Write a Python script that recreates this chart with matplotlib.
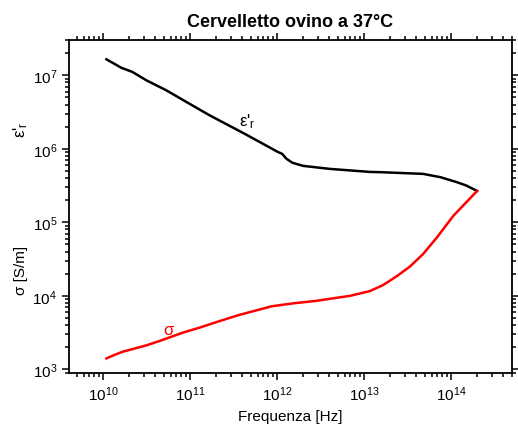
import numpy as np
import matplotlib
matplotlib.use('Agg')
import matplotlib.pyplot as plt
from matplotlib.ticker import LogLocator, NullFormatter

# Data (Hz, eps_r', S/m)
freq_eps = [1.10e10, 1.62e10, 2.19e10, 3.16e10, 5.37e10, 9.12e10, 1.70e11,
            4.27e11, 1.02e12, 1.15e12, 1.29e12, 1.51e12, 2.00e12, 4.07e12,
            1.17e13, 1.55e13, 4.79e13, 7.59e13, 1.17e14, 1.51e14, 2.0e14]
eps_r = [1.65e7, 1.27e7, 1.11e7, 8.55e6, 6.24e6, 4.34e6, 2.84e6,
         1.60e6, 9.10e5, 8.55e5, 7.31e5, 6.46e5, 5.86e5, 5.33e5,
         4.85e5, 4.81e5, 4.56e5, 4.11e5, 3.52e5, 3.16e5, 2.67e5]

freq_sig = [1.10e10, 1.41e10, 1.70e10, 3.16e10, 4.47e10, 8.32e10, 1.29e11,
            2.04e11, 3.55e11, 8.71e11, 1.58e12, 2.75e12, 6.92e12, 1.17e13,
            1.66e13, 2.40e13, 3.39e13, 4.79e13, 6.92e13, 1.07e14, 2.0e14]
sigma = [1.41e3, 1.60e3, 1.74e3, 2.12e3, 2.43e3, 3.16e3, 3.69e3,
         4.41e3, 5.43e3, 7.21e3, 7.94e3, 8.51e3, 1.00e4, 1.16e4,
         1.40e4, 1.86e4, 2.51e4, 3.70e4, 6.24e4, 1.23e5, 2.67e5]

plt.rcParams['font.family'] = ['Liberation Sans', 'DejaVu Sans']
plt.rcParams['mathtext.fontset'] = 'custom'
plt.rcParams['mathtext.rm'] = 'Liberation Sans'
plt.rcParams['mathtext.it'] = 'Liberation Sans'

fig = plt.figure(figsize=(5.18, 4.27), dpi=100)
ax = fig.add_axes([0.133, 0.124, 0.855, 0.780])

ax.plot(freq_eps, eps_r, color='black', lw=1.8)
ax.plot(freq_sig, sigma, color='red', lw=1.8)

ax.set_xscale('log')
ax.set_yscale('log')
ax.set_xlim(10**9.61, 10**14.70)
ax.set_ylim(10**2.95, 10**7.48)

for s in ax.spines.values():
    s.set_linewidth(1.3)

ax.xaxis.set_major_locator(LogLocator(base=10, numticks=20))
ax.xaxis.set_minor_locator(LogLocator(base=10, subs=np.arange(2, 10), numticks=20))
ax.yaxis.set_major_locator(LogLocator(base=10, numticks=20))
ax.yaxis.set_minor_locator(LogLocator(base=10, subs=np.arange(2, 10), numticks=20))
ax.xaxis.set_minor_formatter(NullFormatter())
ax.yaxis.set_minor_formatter(NullFormatter())

ax.tick_params(which='both', direction='out', top=True, right=True, width=1.1)
ax.tick_params(which='major', length=5, labelsize=11)
ax.tick_params(which='minor', length=3)

ax.set_xlabel('Frequenza [Hz]', fontsize=11, labelpad=4)
ax.set_title('Cervelletto ovino a 37°C', fontsize=13, fontweight='bold', pad=10)

fig.text(0.040, 1 - 130 / 427, "ε'$_\\mathrm{r}$", rotation=90,
         ha='center', va='center', fontsize=12)
fig.text(0.040, 1 - 270 / 427, 'σ [S/m]', rotation=90,
         ha='center', va='center', fontsize=11)

ax.text(10**11.66, 10**6.38, "ε'$_\\mathrm{r}$", color='black',
        ha='center', va='center', fontsize=12)
ax.text(10**10.75, 10**3.54, 'σ', color='red', ha='center', va='center',
        fontsize=12)

fig.savefig('out.png', dpi=100)
